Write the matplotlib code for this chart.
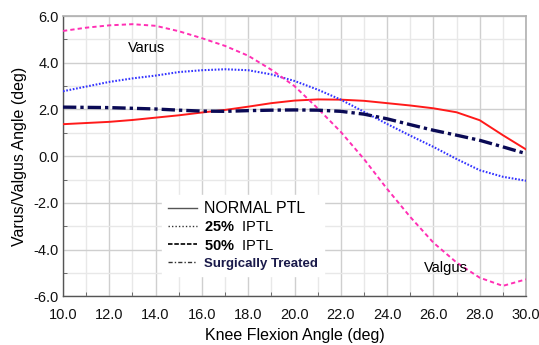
import matplotlib
matplotlib.use("Agg")
import matplotlib.pyplot as plt
from matplotlib.lines import Line2D
from matplotlib.ticker import MultipleLocator, FormatStrFormatter

plt.rcParams['font.family'] = ['Liberation Sans', 'DejaVu Sans']
plt.rcParams['mathtext.fontset'] = 'custom'
plt.rcParams['mathtext.rm'] = 'Liberation Sans'
plt.rcParams['mathtext.bf'] = 'Liberation Sans:bold'

flexion = [10, 11, 12, 13, 14, 15, 16, 17, 18, 19, 20, 21, 22, 23, 24, 25, 26, 27, 28, 29, 30]
normal_ptl = [1.37, 1.42, 1.47, 1.55, 1.65, 1.75, 1.87, 1.98, 2.12, 2.27, 2.38, 2.43, 2.42, 2.37, 2.27, 2.17, 2.05, 1.88, 1.54, 0.90, 0.29]
iptl_25 = [2.78, 2.98, 3.18, 3.33, 3.45, 3.60, 3.68, 3.72, 3.68, 3.50, 3.22, 2.85, 2.42, 1.90, 1.38, 0.88, 0.40, -0.12, -0.60, -0.88, -1.05]
iptl_50 = [5.36, 5.50, 5.60, 5.65, 5.58, 5.35, 5.05, 4.72, 4.30, 3.70, 3.00, 2.05, 1.04, -0.12, -1.40, -2.60, -3.70, -4.55, -5.20, -5.55, -5.27]
surgical = [2.10, 2.09, 2.08, 2.05, 2.02, 1.97, 1.93, 1.92, 1.95, 1.97, 1.98, 1.97, 1.92, 1.80, 1.60, 1.35, 1.11, 0.90, 0.68, 0.40, 0.11]

series_labels = ['NORMAL PTL', r'$\mathbf{25\%}$  IPTL', r'$\mathbf{50\%}$  IPTL', 'Surgically Treated']

fig = plt.figure(figsize=(5.39, 3.45), dpi=100)
ax = fig.add_axes([63/539, 1-296.4/345, 463/539, 280.4/345])

ax.plot(flexion, normal_ptl, color='#ff1a1a', lw=1.4, zorder=3)
ax.plot(flexion, iptl_25, color='#3333ff', lw=1.5, ls=(0, (0.8, 0.8)), zorder=3)
ax.plot(flexion, iptl_50, color='#ff2fb4', lw=1.4, ls=(0, (2.2, 1.6)), zorder=3)
ax.plot(flexion, surgical, color='#0a0a55', lw=2.4, ls=(0, (4, 1.2, 1, 1.2)), zorder=3)

ax.set_xlim(10, 30)
ax.set_ylim(-6, 6)
ax.xaxis.set_major_locator(MultipleLocator(2))
ax.xaxis.set_minor_locator(MultipleLocator(1))
ax.yaxis.set_major_locator(MultipleLocator(2))
ax.yaxis.set_minor_locator(MultipleLocator(1))
ax.xaxis.set_major_formatter(FormatStrFormatter('%.1f'))
ax.yaxis.set_major_formatter(FormatStrFormatter('%.1f'))
ax.grid(which='major', color='#cfcfcf', lw=1.0, zorder=0)
ax.grid(which='minor', color='#e8e8e8', lw=1.0, zorder=0)
ax.tick_params(which='major', length=0, labelsize=10.5, pad=3, colors='#111111')
ax.tick_params(axis='x', which='major', pad=8)
ax.tick_params(which='minor', length=3, direction='in', color='#555555')
for s in ['left', 'bottom']:
    ax.spines[s].set_color('#555555')
    ax.spines[s].set_linewidth(1.0)
for s in ['top', 'right']:
    ax.spines[s].set_color('#b0b0b0')
    ax.spines[s].set_linewidth(1.2)

ax.set_xlabel('Knee Flexion Angle (deg)', fontsize=11.5, labelpad=5)
ax.set_ylabel('Varus/Valgus Angle (deg)', fontsize=11.5, labelpad=5)

ax.text(13.6, 4.65, 'Varus', fontsize=10.5, ha='center', va='center')
ax.text(26.55, -4.8, 'Valgus', fontsize=10.5, ha='center', va='center')

handles = [
    Line2D([], [], color='#555555', lw=1.0),
    Line2D([], [], color='#333333', lw=1.0, ls=(0, (1, 1.5))),
    Line2D([], [], color='#111111', lw=1.3, ls=(0, (2.5, 1))),
    Line2D([], [], color='#333333', lw=1.0, ls=(0, (3, 1.5, 1, 1.5))),
]
leg = ax.legend(handles, series_labels, loc='upper left',
                bbox_to_anchor=((162-63)/463, (296.4-195)/280.4),
                borderaxespad=0, frameon=True, fancybox=False,
                facecolor='white', edgecolor='white', framealpha=1,
                fontsize=10.5, handlelength=2.0, handletextpad=0.5,
                labelspacing=0.3, borderpad=0.4)
texts = leg.get_texts()
texts[0].set_fontsize(11.5)
texts[3].set_fontweight('bold')
texts[3].set_color('#1a1a4a')
texts[3].set_fontsize(9.5)
texts[3].set_fontfamily(['Liberation Sans Narrow', 'Liberation Sans'])
leg.set_zorder(5)

fig.savefig('out.png', dpi=100)
